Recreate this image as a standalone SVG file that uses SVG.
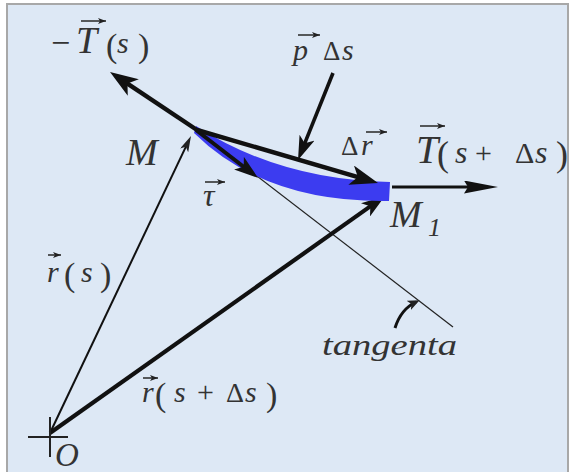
<svg xmlns="http://www.w3.org/2000/svg" width="570" height="472" viewBox="0 0 570 472">
<style>
.t{font-family:'Liberation Serif','Times New Roman',serif;fill:#333;}
.i{font-style:italic;}
.v{stroke:#333;stroke-width:1.6;fill:none;marker-end:url(#vec);}
.k{stroke:#111;fill:none;}
</style>
<defs>
<marker id="big" markerUnits="userSpaceOnUse" markerWidth="28" markerHeight="20" refX="16" refY="10" orient="auto"><path d="M0,0 L28,10 L0,20 L7,10 Z" fill="#111"/></marker>
<marker id="mid" markerUnits="userSpaceOnUse" markerWidth="24" markerHeight="16" refX="12" refY="8" orient="auto"><path d="M0,0 L24,8 L0,16 L6,8 Z" fill="#111"/></marker>
<marker id="long" markerUnits="userSpaceOnUse" markerWidth="34" markerHeight="13" refX="22" refY="6.5" orient="auto"><path d="M0,0 L34,6.5 L0,13 L4,6.5 Z" fill="#111"/></marker>
<marker id="thin" markerUnits="userSpaceOnUse" markerWidth="16" markerHeight="9" refX="10" refY="4.5" orient="auto"><path d="M0,0 L16,4.5 L0,9 L4,4.5 Z" fill="#222"/></marker>
<marker id="tiny" markerUnits="userSpaceOnUse" markerWidth="12" markerHeight="10" refX="8" refY="5" orient="auto"><path d="M0,0 L12,5 L0,10 L3,5 Z" fill="#222"/></marker>
<marker id="vec" markerUnits="userSpaceOnUse" markerWidth="8" markerHeight="6" refX="8" refY="3" orient="auto"><path d="M0,0 L8,3 L0,6 L2,3 Z" fill="#222"/></marker>
</defs>
<rect x="0" y="0" width="570" height="472" fill="#ffffff"/>
<rect x="7" y="4" width="561" height="490" fill="#dde8f5" stroke="#a8a8a8" stroke-width="2"/>

<g id="connectors">
  <line id="tangent-line" x1="196" y1="129" x2="453" y2="327" stroke="#222" stroke-width="1.2"/>
  <line id="r-s" x1="50" y1="433" x2="188.4" y2="141.4" class="k" stroke-width="2" marker-end="url(#thin)"/>
  <line id="r-s-ds" x1="50" y1="433" x2="375.2" y2="202.9" class="k" stroke-width="4.2" marker-end="url(#mid)"/>
  <path id="arc" d="M196,126 Q280,180 390,182 L389,201 Q265,203 194,133 Z" fill="#3c3cf0"/>
  <line id="tau" x1="196" y1="130" x2="248.5" y2="170.5" class="k" stroke-width="4" marker-end="url(#mid)"/>
  <line id="delta-r" x1="197" y1="130" x2="366.5" y2="179.6" class="k" stroke-width="4.5" marker-end="url(#big)"/>
  <line id="minus-T" x1="197" y1="130" x2="120" y2="78.6" class="k" stroke-width="4.5" marker-end="url(#big)"/>
  <line id="T-s-ds" x1="392" y1="187" x2="486" y2="187" class="k" stroke-width="3" marker-end="url(#long)"/>
  <line id="p-ds" x1="333" y1="73" x2="302.5" y2="148.9" class="k" stroke-width="3.6" marker-end="url(#mid)"/>
  <path id="tangenta-pointer" d="M395,328 Q401,309 416,302" class="k" stroke-width="3" marker-end="url(#tiny)"/>
  <g id="origin-cross" stroke="#222" stroke-width="2">
    <line x1="28" y1="437" x2="68" y2="437"/>
    <line x1="50" y1="417" x2="50" y2="457"/>
  </g>
</g>

<g id="label-minus-T">
  <text class="t" x="51" y="54" font-size="34">−</text>
  <text class="t i" x="76" y="53" font-size="38">T</text>
  <text class="t" x="106" y="57" font-size="34">(</text>
  <text class="t i" x="117" y="53" font-size="30">s</text>
  <text class="t" x="138" y="57" font-size="34">)</text>
  <line class="v" x1="81" y1="21" x2="106" y2="21"/>
</g>
<g id="label-p-ds">
  <text class="t i" x="293" y="60" font-size="30">p</text>
  <text class="t" x="323" y="60" font-size="27">Δ</text>
  <text class="t i" x="342" y="60" font-size="30">s</text>
  <line class="v" x1="298" y1="35" x2="320" y2="35"/>
</g>
<g id="label-delta-r">
  <text class="t" x="341" y="155" font-size="27">Δ</text>
  <text class="t i" x="361" y="155" font-size="30">r</text>
  <line class="v" x1="366" y1="132" x2="387" y2="132"/>
</g>
<g id="label-T-s-ds">
  <text class="t i" x="416" y="163" font-size="40">T</text>
  <text class="t" x="437" y="166" font-size="36">(</text>
  <text class="t i" x="455" y="163" font-size="32">s</text>
  <text class="t" x="475" y="163" font-size="30">+</text>
  <text class="t" x="515" y="163" font-size="30">Δ</text>
  <text class="t i" x="535" y="163" font-size="32">s</text>
  <text class="t" x="556" y="166" font-size="36">)</text>
  <line class="v" x1="420" y1="126" x2="445" y2="126"/>
</g>
<g id="label-M">
  <text class="t i" x="126" y="165" font-size="38" fill="#2e2e40">M</text>
</g>
<g id="label-tau">
  <text class="t i" x="203" y="206" font-size="32">τ</text>
  <line class="v" x1="205" y1="182" x2="225" y2="182"/>
</g>
<g id="label-M1">
  <text class="t i" x="390" y="227" font-size="38">M</text>
  <text class="t i" x="428" y="236" font-size="26">1</text>
</g>
<g id="label-r-s">
  <text class="t i" x="47" y="282" font-size="30">r</text>
  <text class="t" x="64" y="286" font-size="34">(</text>
  <text class="t i" x="81" y="282" font-size="30">s</text>
  <text class="t" x="100" y="286" font-size="34">)</text>
  <line class="v" x1="48" y1="255" x2="61" y2="255"/>
</g>
<g id="label-r-s-ds">
  <text class="t i" x="142" y="402" font-size="30">r</text>
  <text class="t" x="155" y="406" font-size="34">(</text>
  <text class="t i" x="174" y="402" font-size="30">s</text>
  <text class="t" x="197" y="402" font-size="30">+</text>
  <text class="t" x="226" y="402" font-size="28">Δ</text>
  <text class="t i" x="245" y="402" font-size="30">s</text>
  <text class="t" x="266" y="406" font-size="34">)</text>
  <line class="v" x1="143" y1="378" x2="158" y2="378"/>
</g>
<g id="label-O">
  <text class="t i" x="55" y="466" font-size="33" fill="#2e2e48">O</text>
</g>
<g id="label-tangenta">
  <text class="t i" x="322" y="355" font-size="30" textLength="135" lengthAdjust="spacingAndGlyphs" fill="#2e2e40">tangenta</text>
</g>
</svg>
